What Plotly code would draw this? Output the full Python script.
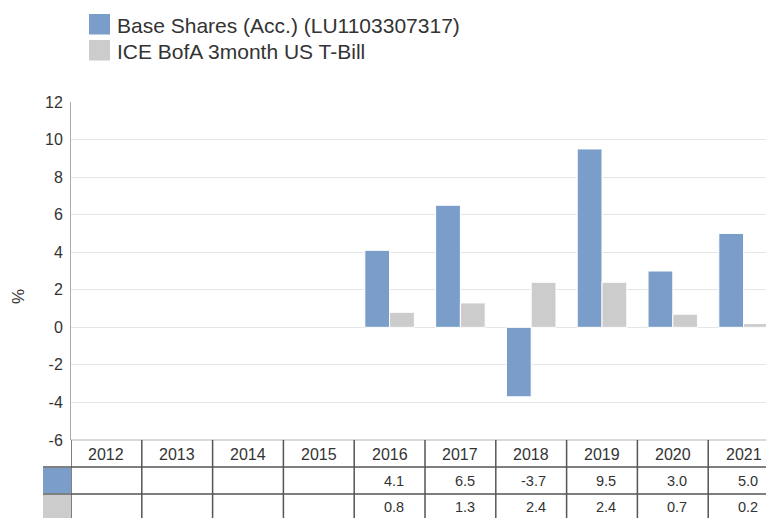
import plotly.graph_objects as go

years = ["2012", "2013", "2014", "2015", "2016", "2017", "2018", "2019", "2020", "2021"]
fund_name = "Base Shares (Acc.) (LU1103307317)"
bench_name = "ICE BofA 3month US T-Bill"
fund_values = [None, None, None, None, 4.1, 6.5, -3.7, 9.5, 3.0, 5.0]
bench_values = [None, None, None, None, 0.8, 1.3, 2.4, 2.4, 0.7, 0.2]
y_ticks = [-6, -4, -2, 0, 2, 4, 6, 8, 10, 12]
y_tick_text = ["-6", "-4", "-2", "0", "2", "4", "6", "8", "10", "12"]

BLUE = "#7a9ec9"
GRAY = "#cccccc"
TEXT = "#333333"
LINE = "#555555"
FONT = "Liberation Sans, Arial, sans-serif"

# the page body adds an 8px margin; the figure is sized to fill the rest of the window
OFF = 8
W, H = 774 - OFF, 518 - OFF
PLOT_L, PLOT_R, PLOT_T, PLOT_B = 71, 774, 102, 440   # page pixels
ML, MR, MT, MB = PLOT_L - OFF, 774 - PLOT_R, PLOT_T - OFF, 518 - PLOT_B
PW, PH = PLOT_R - PLOT_L, PLOT_B - PLOT_T

def px_y(y):
    return (PLOT_B - y) / PH

def px_x(x):
    return (x - PLOT_L) / PW

idx = list(range(len(years)))
cat_w = 70.8
x_max = -0.5 + PW / cat_w

fig = go.Figure()
fig.add_trace(go.Bar(x=idx, y=fund_values, name=fund_name,
                     marker=dict(color=BLUE, line=dict(color="white", width=1)), showlegend=False))
fig.add_trace(go.Bar(x=idx, y=bench_values, name=bench_name,
                     marker=dict(color=GRAY, line=dict(color="white", width=1)), showlegend=False))

shapes = []
annotations = []

# legend
for k, (name, col) in enumerate([(fund_name, BLUE), (bench_name, GRAY)]):
    top = 14 + 26 * k
    shapes.append(dict(type="rect", xref="paper", yref="paper", x0=px_x(89), x1=px_x(110),
                       y0=px_y(top + 20.5), y1=px_y(top), fillcolor=col, line=dict(width=0)))
    annotations.append(dict(text=name, xref="paper", yref="paper", x=px_x(115), y=px_y(top + 11),
                            xanchor="left", yanchor="middle", showarrow=False,
                            font=dict(size=21, color=TEXT, family=FONT)))

# y title
annotations.append(dict(text="%", xref="paper", yref="paper", x=px_x(18), y=px_y(297), textangle=-90,
                        xanchor="center", yanchor="middle", showarrow=False,
                        font=dict(size=17, color=TEXT, family=FONT)))

# table
y_hdr_top, y_r1, y_r2, y_bot = 440, 467, 494, 530
shapes.append(dict(type="line", xref="paper", yref="paper", x0=0, x1=1, y0=px_y(y_hdr_top), y1=px_y(y_hdr_top),
                   line=dict(color="#cccccc", width=1.5)))
for yy in (y_r1, y_r2):
    shapes.append(dict(type="line", xref="paper", yref="paper", x0=px_x(43), x1=1, y0=px_y(yy), y1=px_y(yy),
                       line=dict(color=LINE, width=1.5)))
shapes.append(dict(type="rect", xref="paper", yref="paper", x0=px_x(43), x1=0, y0=px_y(y_r2 - 1), y1=px_y(y_r1 + 1),
                   fillcolor=BLUE, line=dict(width=0)))
shapes.append(dict(type="rect", xref="paper", yref="paper", x0=px_x(43), x1=0, y0=px_y(y_bot), y1=px_y(y_r2 + 1),
                   fillcolor=GRAY, line=dict(width=0)))
for i in idx:
    shapes.append(dict(type="line", xref="x", yref="paper", x0=i - 0.5, x1=i - 0.5,
                       y0=px_y(y_bot), y1=px_y(y_hdr_top), line=dict(color=LINE, width=1.5)))
    annotations.append(dict(text=years[i], xref="x", yref="paper", x=i, y=px_y((y_hdr_top + y_r1) / 2 + 0.5),
                            xanchor="center", yanchor="middle", showarrow=False,
                            font=dict(size=16, color=TEXT, family=FONT)))
    for vals, yc in ((fund_values, (y_r1 + y_r2) / 2), (bench_values, (y_r2 + 518) / 2)):
        v = vals[i]
        if v is None:
            continue
        annotations.append(dict(text=f"{v:.1f}", xref="x", yref="paper", x=i, xshift=cat_w / 2 - 19,
                                y=px_y(yc + 1), xanchor="right", yanchor="middle", showarrow=False,
                                font=dict(size=14.5, color=TEXT, family=FONT)))

fig.update_layout(
    width=W, height=H,
    margin=dict(l=ML, r=MR, t=MT, b=MB, pad=0),
    paper_bgcolor="white", plot_bgcolor="white",
    barmode="group", bargap=0.3, bargroupgap=0.0,
    font=dict(family=FONT, color=TEXT),
    shapes=shapes, annotations=annotations,
    xaxis=dict(range=[-0.5, x_max], showticklabels=False, showgrid=False, zeroline=False, fixedrange=True),
    yaxis=dict(range=[-6, 12], tickvals=y_ticks, ticktext=y_tick_text, gridcolor="#e6e6e6", gridwidth=1,
               zeroline=True, zerolinecolor="#e6e6e6", zerolinewidth=1,
               showline=True, linecolor="#aaaaaa", linewidth=1,
               ticklabelstandoff=4, tickfont=dict(size=16, color=TEXT, family=FONT)),
)

fig.write_html("out.html")
